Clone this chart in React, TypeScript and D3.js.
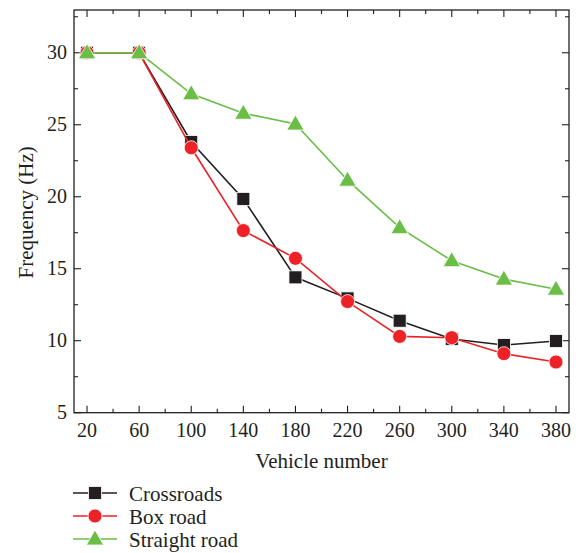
import React from "react";
import * as d3 from "d3";

const vehicles = [20, 60, 100, 140, 180, 220, 260, 300, 340, 380];
const crossroads = [30, 30, 23.8, 19.85, 14.4, 12.94, 11.39, 10.12, 9.7, 9.98];
const boxRoad = [30, 30, 23.4, 17.65, 15.72, 12.72, 10.3, 10.21, 9.1, 8.52];
const straightRoad = [30, 30, 27.15, 25.8, 25.05, 21.15, 17.85, 15.56, 14.28, 13.58];
const xTicks = [20, 60, 100, 140, 180, 220, 260, 300, 340, 380];
const yTicks = [5, 10, 15, 20, 25, 30];

const seriesNames = ["Crossroads", "Box road", "Straight road"];
const colors = ["#231f20", "#ec2227", "#6abd45"];
const shapes = ["square", "circle", "triangle"];

const W = 580, H = 553;
const L = 74, R = 569, T = 10, B = 412.7;
const FONT = "'Liberation Serif', 'DejaVu Serif', serif";

function Marker({ shape, x, y, color }: { shape: string; x: number; y: number; color: string }) {
  if (shape === "square") return <rect x={x - 6.5} y={y - 6.5} width={13} height={13} fill={color} stroke="#fff" strokeWidth={0.8} />;
  if (shape === "circle") return <circle cx={x} cy={y} r={7} fill={color} stroke="#fff" strokeWidth={0.8} />;
  const s = d3.symbol().type(d3.symbolTriangle).size(130)()!;
  return <path d={s} transform={`translate(${x},${y + 1})`} fill={color} stroke="#fff" strokeWidth={0.8} />;
}

export default function App() {
  const x = d3.scaleLinear().domain([10, 390]).range([L, R]);
  const y = d3.scaleLinear().domain([5, 32.97]).range([B, T]);
  const data = [crossroads, boxRoad, straightRoad];
  const line = d3.line<number>().x((_, i) => x(vehicles[i])).y((d) => y(d));
  const minorX = d3.range(20, 390, 20);
  const minorY = d3.range(5, 33, 2.5);

  return (
    <svg width={W} height={H} style={{ display: "block", position: "absolute", left: 0, top: 0 }} fontFamily={FONT}>
      <rect x={0} y={0} width={W} height={H} fill="#fff" />
      {minorX.map((v) => {
        const major = (v - 20) % 40 === 0;
        const len = major ? 7 : 4;
        return (
          <g key={"xt" + v} stroke="#231f20" strokeWidth={1.1}>
            <line x1={x(v)} x2={x(v)} y1={B} y2={B - len} />
            <line x1={x(v)} x2={x(v)} y1={T} y2={T + len} />
          </g>
        );
      })}
      {minorY.map((v) => {
        const major = v % 5 === 0;
        const len = major ? 7 : 4;
        return (
          <g key={"yt" + v} stroke="#231f20" strokeWidth={1.1}>
            <line x1={L} x2={L + len} y1={y(v)} y2={y(v)} />
            <line x1={R} x2={R - len} y1={y(v)} y2={y(v)} />
          </g>
        );
      })}
      <rect x={L} y={T} width={R - L} height={B - T} fill="none" stroke="#231f20" strokeWidth={1.3} />
      {xTicks.map((v) => (
        <text key={"xl" + v} x={x(v)} y={B + 24} textAnchor="middle" fontSize={20} fill="#231f20">{v}</text>
      ))}
      {yTicks.map((v) => (
        <text key={"yl" + v} x={L - 7} y={y(v) + 6.5} textAnchor="end" fontSize={20} fill="#231f20">{v}</text>
      ))}
      <text x={(L + R) / 2} y={468} textAnchor="middle" fontSize={21} fill="#231f20">Vehicle number</text>
      <text transform={`translate(33,${(T + B) / 2 + 1}) rotate(-90)`} textAnchor="middle" fontSize={21} fill="#231f20">Frequency (Hz)</text>
      {data.map((d, si) => (
        <g key={"s" + si}>
          <path d={line(d)!} fill="none" stroke={colors[si]} strokeWidth={1.6} />
          {d.map((v, i) => (
            <Marker key={i} shape={shapes[si]} x={x(vehicles[i])} y={y(v)} color={colors[si]} />
          ))}
        </g>
      ))}
      {seriesNames.map((n, si) => {
        const ly = 493 + si * 23;
        return (
          <g key={"lg" + si}>
            <line x1={73} x2={117} y1={ly} y2={ly} stroke={colors[si]} strokeWidth={1.6} />
            <Marker shape={shapes[si]} x={95} y={ly} color={colors[si]} />
            <text x={129} y={ly + 7.5} fontSize={21} fill="#231f20">{n}</text>
          </g>
        );
      })}
    </svg>
  );
}
